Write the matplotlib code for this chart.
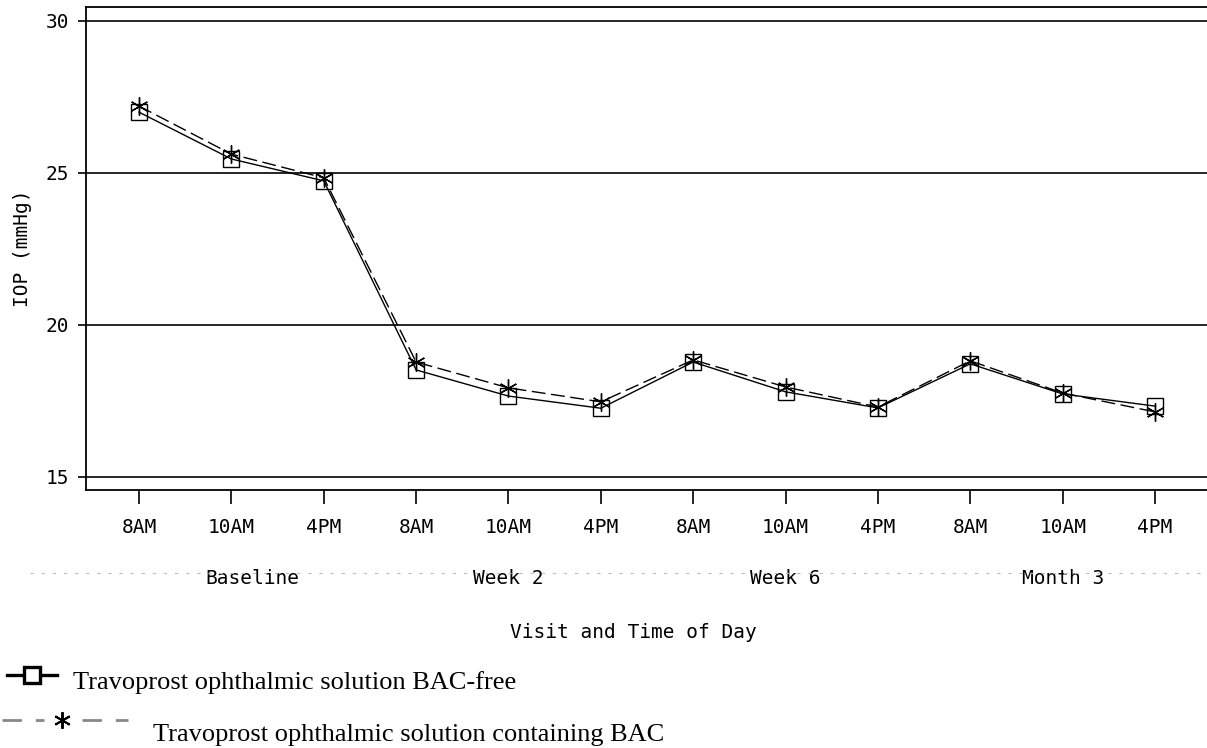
import matplotlib
matplotlib.use("Agg")
import matplotlib.pyplot as plt
import matplotlib.transforms as mtransforms
from matplotlib.lines import Line2D

# data
times = ["8AM", "10AM", "4PM"] * 4
visits = ["Baseline", "Week 2", "Week 6", "Month 3"]
bac_free = [27.0, 25.46, 24.74, 18.52, 17.66, 17.26,
            18.78, 17.80, 17.27, 18.72, 17.73, 17.33]
bac = [27.2, 25.62, 24.84, 18.78, 17.93, 17.47,
       18.85, 17.96, 17.30, 18.82, 17.76, 17.14]
label_free = "Travoprost ophthalmic solution BAC-free"
label_bac = "Travoprost ophthalmic solution containing BAC"

W, H = 1207, 748
mono = "DejaVu Sans Mono"
serif = "Liberation Serif"

def fx(px):
    return px / W

def fy(py):
    return 1 - py / H

fig = plt.figure(figsize=(W / 100, H / 100), dpi=100)
ax = fig.add_axes([fx(86), fy(490), 1 - fx(86), fy(7) - fy(490)])

x = list(range(len(times)))
ax.plot(x, bac_free, color="black", lw=1.0, marker="s", ms=12,
        mfc="none", mec="black", mew=1.0)
ax.plot(x, bac, color="black", lw=1.0, dashes=(10, 4), marker=(6, 2, 0),
        ms=13, mec="black", mew=1.0)

for yv in [15, 20, 25, 30]:
    ax.axhline(yv, color="black", lw=1.2, zorder=0)

ax.set_xlim(-0.574, 11.563)
ax.set_ylim(14.57, 30.46)
ax.set_yticks([15, 20, 25, 30])
ax.set_xticks(x)
ax.set_xticklabels(times, family=mono, fontsize=14)
for lab in ax.get_yticklabels():
    lab.set_family(mono)
    lab.set_fontsize(14)
ax.tick_params(axis="y", direction="out", length=6, width=1.2, pad=6)
ax.tick_params(axis="x", direction="out", length=10, width=1.2, pad=10)
ax.spines["right"].set_visible(False)
for s in ["left", "bottom", "top"]:
    ax.spines[s].set_linewidth(1.3)

ax.set_ylabel("IOP (mmHg)", family=mono, fontsize=14, labelpad=10)

# visit row with faint dashed rule
trans = mtransforms.blended_transform_factory(ax.transData, fig.transFigure)
fig.add_artist(Line2D([fx(30), 1], [fy(573), fy(573)], color="#bbbbbb",
                      lw=0.8, dashes=(3, 7)))
nudge = [0.23, 0, 0, 0]  # baseline label sits a bit right in the original
for i, v in enumerate(visits):
    ax.text(3 * i + 1 + nudge[i], fy(578), v, transform=trans, ha="center",
            va="center", family=mono, fontsize=14, clip_on=False,
            bbox=dict(fc="white", ec="none", pad=1))

fig.text(fx(633), fy(632), "Visit and Time of Day", ha="center", va="center",
         family=mono, fontsize=14)

# hand drawn legend under the chart
fig.add_artist(Line2D([fx(7), fx(32), fx(57)], [fy(675)] * 3, color="black",
                      lw=2.4, marker="s", markevery=[1], ms=11, mfc="white",
                      mew=2.4))
fig.text(fx(73), fy(683), label_free, ha="left", va="center",
         family=serif, fontsize=19)
fig.add_artist(Line2D([fx(2), fx(44)], [fy(720)] * 2, color="#888888",
                      lw=2, dashes=(7, 5)))
fig.add_artist(Line2D([fx(82), fx(128)], [fy(720)] * 2, color="#888888",
                      lw=2, dashes=(7, 5)))
fig.add_artist(Line2D([fx(62)], [fy(720)], color="black", marker=(6, 2, 0),
                      ms=12, mew=1.4, lw=0))
fig.text(fx(153), fy(735), label_bac, ha="left", va="center",
         family=serif, fontsize=19)

fig.savefig("out.png", dpi=100)
